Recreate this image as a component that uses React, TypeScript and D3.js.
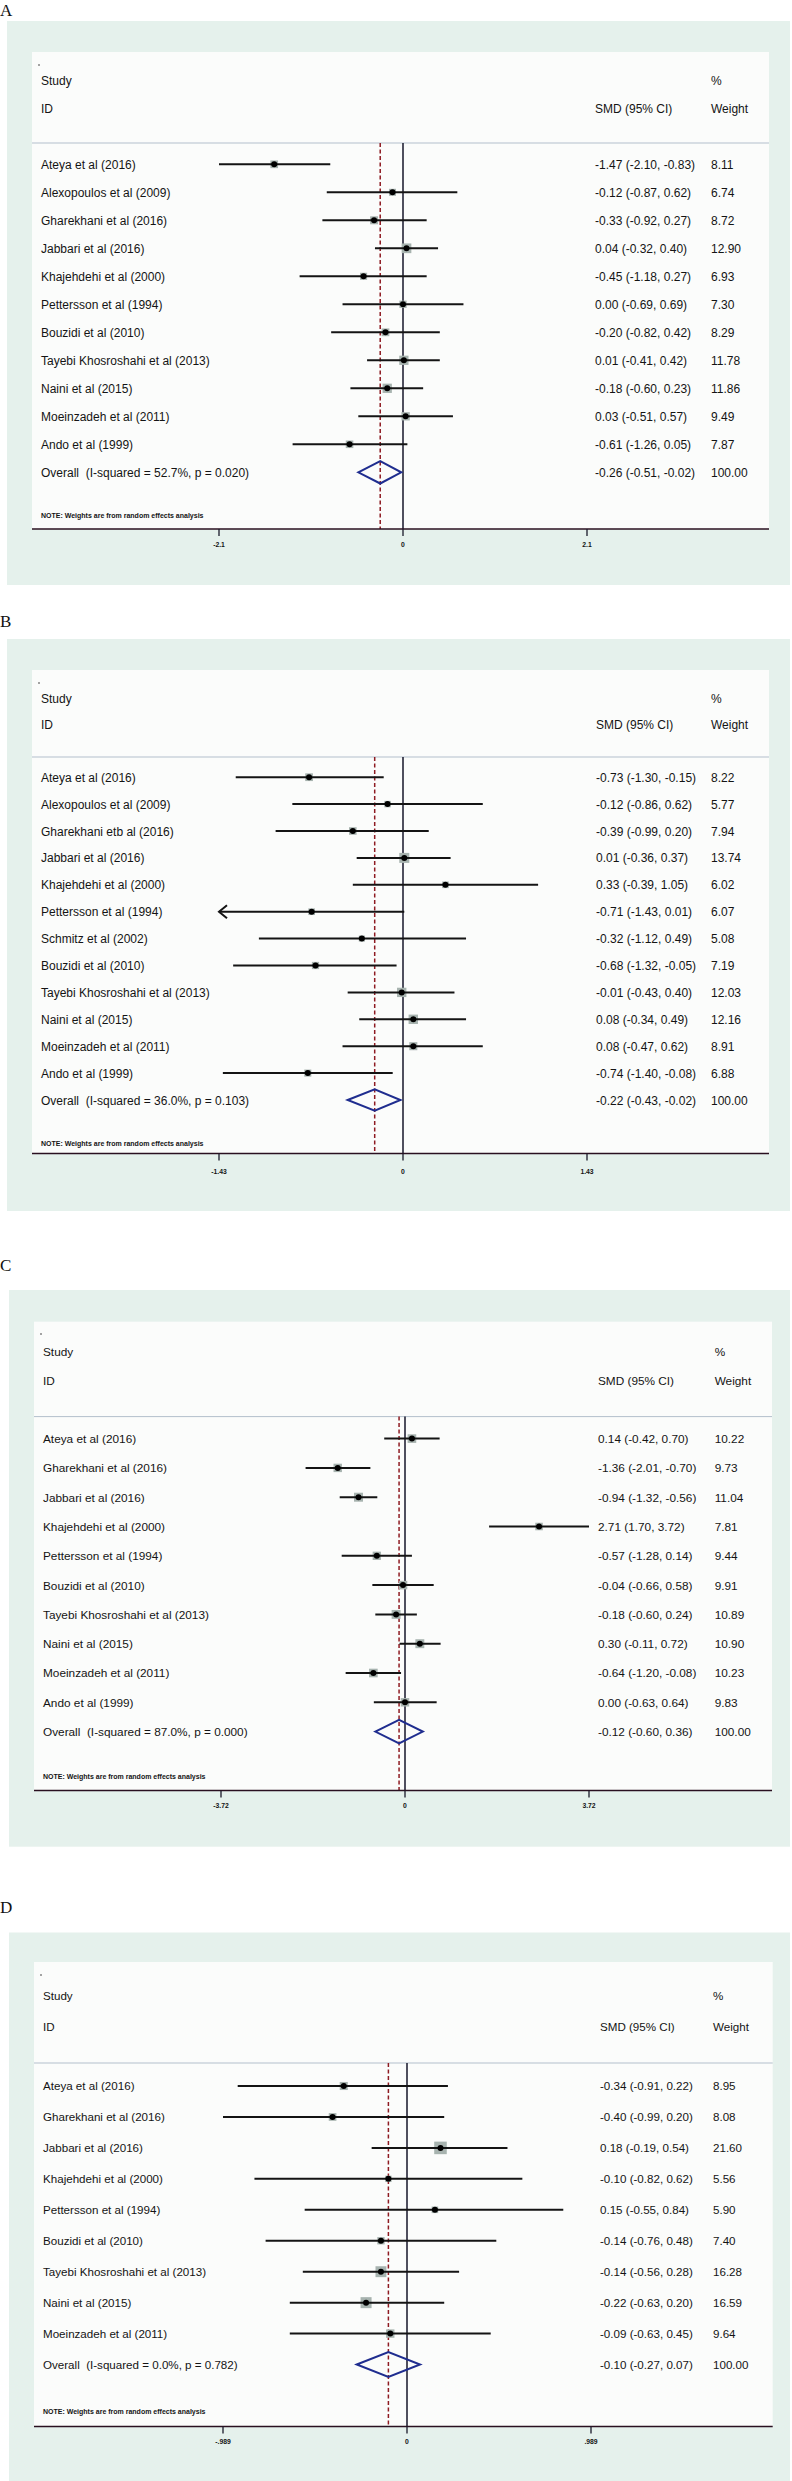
import React from "react";
import * as d3 from "d3";

// ---------- Panel A data ----------
const studiesA = ["Ateya et al (2016)", "Alexopoulos et al (2009)", "Gharekhani et al (2016)", "Jabbari et al (2016)", "Khajehdehi et al (2000)", "Pettersson et al (1994)", "Bouzidi et al (2010)", "Tayebi Khosroshahi et al (2013)", "Naini et al (2015)", "Moeinzadeh et al (2011)", "Ando et al (1999)"];
const smdA = [-1.47, -0.12, -0.33, 0.04, -0.45, 0.0, -0.2, 0.01, -0.18, 0.03, -0.61];
const lowerA = [-2.1, -0.87, -0.92, -0.32, -1.18, -0.69, -0.82, -0.41, -0.6, -0.51, -1.26];
const upperA = [-0.83, 0.62, 0.27, 0.4, 0.27, 0.69, 0.42, 0.42, 0.23, 0.57, 0.05];
const weightA = [8.11, 6.74, 8.72, 12.9, 6.93, 7.3, 8.29, 11.78, 11.86, 9.49, 7.87];
const overallA = [-0.26, -0.51, -0.02];
const hetA = "Overall  (I-squared = 52.7%, p = 0.020)";
const ticksA = [-2.1, 0, 2.1];
const tickLabelsA = ["-2.1", "0", "2.1"];
const arrowsA: string[] = [];

// ---------- Panel B data ----------
const studiesB = ["Ateya et al (2016)", "Alexopoulos et al (2009)", "Gharekhani etb al (2016)", "Jabbari et al (2016)", "Khajehdehi et al (2000)", "Pettersson et al (1994)", "Schmitz et al (2002)", "Bouzidi et al (2010)", "Tayebi Khosroshahi et al (2013)", "Naini et al (2015)", "Moeinzadeh et al (2011)", "Ando et al (1999)"];
const smdB = [-0.73, -0.12, -0.39, 0.01, 0.33, -0.71, -0.32, -0.68, -0.01, 0.08, 0.08, -0.74];
const lowerB = [-1.3, -0.86, -0.99, -0.36, -0.39, -1.43, -1.12, -1.32, -0.43, -0.34, -0.47, -1.4];
const upperB = [-0.15, 0.62, 0.2, 0.37, 1.05, 0.01, 0.49, -0.05, 0.4, 0.49, 0.62, -0.08];
const weightB = [8.22, 5.77, 7.94, 13.74, 6.02, 6.07, 5.08, 7.19, 12.03, 12.16, 8.91, 6.88];
const overallB = [-0.22, -0.43, -0.02];
const hetB = "Overall  (I-squared = 36.0%, p = 0.103)";
const ticksB = [-1.43, 0, 1.43];
const tickLabelsB = ["-1.43", "0", "1.43"];
const arrowsB = ["Pettersson et al (1994)"];

// ---------- Panel C data ----------
const studiesC = ["Ateya et al (2016)", "Gharekhani et al (2016)", "Jabbari et al (2016)", "Khajehdehi et al (2000)", "Pettersson et al (1994)", "Bouzidi et al (2010)", "Tayebi Khosroshahi et al (2013)", "Naini et al (2015)", "Moeinzadeh et al (2011)", "Ando et al (1999)"];
const smdC = [0.14, -1.36, -0.94, 2.71, -0.57, -0.04, -0.18, 0.3, -0.64, 0.0];
const lowerC = [-0.42, -2.01, -1.32, 1.7, -1.28, -0.66, -0.6, -0.11, -1.2, -0.63];
const upperC = [0.7, -0.7, -0.56, 3.72, 0.14, 0.58, 0.24, 0.72, -0.08, 0.64];
const weightC = [10.22, 9.73, 11.04, 7.81, 9.44, 9.91, 10.89, 10.9, 10.23, 9.83];
const overallC = [-0.12, -0.6, 0.36];
const hetC = "Overall  (I-squared = 87.0%, p = 0.000)";
const ticksC = [-3.72, 0, 3.72];
const tickLabelsC = ["-3.72", "0", "3.72"];
const arrowsC: string[] = [];

// ---------- Panel D data ----------
const studiesD = ["Ateya et al (2016)", "Gharekhani et al (2016)", "Jabbari et al (2016)", "Khajehdehi et al (2000)", "Pettersson et al (1994)", "Bouzidi et al (2010)", "Tayebi Khosroshahi et al (2013)", "Naini et al (2015)", "Moeinzadeh et al (2011)"];
const smdD = [-0.34, -0.4, 0.18, -0.1, 0.15, -0.14, -0.14, -0.22, -0.09];
const lowerD = [-0.91, -0.99, -0.19, -0.82, -0.55, -0.76, -0.56, -0.63, -0.63];
const upperD = [0.22, 0.2, 0.54, 0.62, 0.84, 0.48, 0.28, 0.2, 0.45];
const weightD = [8.95, 8.08, 21.6, 5.56, 5.9, 7.4, 16.28, 16.59, 9.64];
const overallD = [-0.1, -0.27, 0.07];
const hetD = "Overall  (I-squared = 0.0%, p = 0.782)";
const ticksD = [-0.989, 0, 0.989];
const tickLabelsD = ["-.989", "0", ".989"];
const arrowsD: string[] = [];

// ---------- layout (positions only) ----------
type Layout = {
  letter: string; labelY: number;
  outer: [number, number, number, number];
  white: [number, number, number, number];
  dotY: number; studyY: number; idY: number; headerY: number;
  firstRow: number; pitch: number; noteY: number; axisY: number;
  tx0: number; tx1: number; ciX: number; wX: number; tickLabelY: number; fs: number;
};

const layoutA: Layout = { letter: "A", labelY: 15.5, outer: [7, 21, 790, 585], white: [32, 52, 769, 529], dotY: 65, studyY: 85, idY: 113, headerY: 143, firstRow: 164.3, pitch: 28, noteY: 518, axisY: 529, tx0: 219, tx1: 587, ciX: 595, wX: 711, tickLabelY: 547, fs: 12 };
const layoutB: Layout = { letter: "B", labelY: 627, outer: [7, 639, 790, 1211], white: [32, 670, 769, 1153.4], dotY: 683, studyY: 702.6, idY: 729, headerY: 757, firstRow: 777.2, pitch: 26.9, noteY: 1145.5, axisY: 1153.4, tx0: 219, tx1: 587, ciX: 596, wX: 711, tickLabelY: 1174, fs: 12 };
const layoutC: Layout = { letter: "C", labelY: 1271, outer: [9, 1290, 790, 1846.7], white: [34, 1321.7, 772, 1790.5], dotY: 1334, studyY: 1356, idY: 1385, headerY: 1416.6, firstRow: 1438.6, pitch: 29.3, noteY: 1779, axisY: 1790.5, tx0: 221, tx1: 589, ciX: 598, wX: 714.7, tickLabelY: 1808, fs: 11.8 };
const layoutD: Layout = { letter: "D", labelY: 1913, outer: [9, 1932.5, 790, 2481], white: [34, 1962, 772.7, 2426.6], dotY: 1975, studyY: 2000, idY: 2031, headerY: 2063, firstRow: 2086, pitch: 30.95, noteY: 2413.5, axisY: 2426.6, tx0: 223, tx1: 591, ciX: 600, wX: 713, tickLabelY: 2444, fs: 11.6 };

const FONT = "'Liberation Sans', Arial, Helvetica, sans-serif";
const MINT = "#e5f1ec";
const WHITE = "#fbfcfb";
const INK = "#141414";
const BOX = "#a7b3af";
const NAVY = "#1f2d8f";
const DASH = "#8e1b22";

const locale = d3.formatLocale({ decimal: ".", thousands: ",", grouping: [3], currency: ["", ""], minus: "-" });
const f2 = locale.format(".2f");
const fmt = (v: number) => (Math.abs(v) < 0.005 ? "0.00" : f2(v));

type PanelProps = {
  L: Layout; studies: string[]; smd: number[]; lower: number[]; upper: number[]; weight: number[];
  overall: number[]; het: string; ticks: number[]; tickLabels: string[]; arrows: string[];
};

function Panel({ L, studies, smd, lower, upper, weight, overall, het, ticks, tickLabels, arrows }: PanelProps) {
  const x = d3.scaleLinear().domain([ticks[0], ticks[2]]).range([L.tx0, L.tx1]);
  const n = studies.length;
  const y = d3.scaleLinear().domain([0, n]).range([L.firstRow, L.firstRow + n * L.pitch]);
  const boxK = 2.7;
  const [wl, wt, wr, wb] = L.white;
  const [ol, ot, or, ob] = L.outer;
  const dh = L.pitch * 0.4;
  const diamond = d3.line()([
    [x(overall[1]), y(n)],
    [x(overall[0]), y(n) - dh],
    [x(overall[2]), y(n)],
    [x(overall[0]), y(n) + dh],
  ]) + "Z";
  const textY = (i: number) => y(i) + L.fs * 0.38;

  return (
    <g>
      <text x={0} y={L.labelY} fontFamily="'Liberation Serif', 'Times New Roman', serif" fontSize={17} fill="#111">{L.letter}</text>
      <rect x={ol} y={ot} width={or - ol} height={ob - ot} fill={MINT} />
      <rect x={wl} y={wt} width={wr - wl} height={wb - wt} fill={WHITE} />
      <circle cx={wl + 7} cy={L.dotY} r={0.8} fill="#333" />
      <g fontFamily={FONT} fontSize={L.fs} fill={INK}>
        <text x={wl + 9} y={L.studyY}>Study</text>
        <text x={wl + 9} y={L.idY}>ID</text>
        <text x={L.ciX} y={L.idY}>SMD (95% CI)</text>
        <text x={L.wX} y={L.studyY}>%</text>
        <text x={L.wX} y={L.idY}>Weight</text>
      </g>
      <line x1={wl} x2={wr} y1={L.headerY} y2={L.headerY} stroke="#b3bfcc" strokeWidth={1} />
      {/* reference lines */}
      <line x1={x(0)} x2={x(0)} y1={L.headerY} y2={L.axisY} stroke="#16162a" strokeWidth={1.5} />
      <line x1={x(overall[0])} x2={x(overall[0])} y1={L.headerY} y2={L.axisY} stroke={DASH} strokeWidth={1.5} strokeDasharray="4 2.5" />
      {/* studies */}
      {studies.map((s, i) => {
        const side = boxK * Math.sqrt(weight[i]);
        const hasArrow = arrows.includes(s);
        const lo = x(Math.max(lower[i], ticks[0]));
        const hi = x(Math.min(upper[i], ticks[2]));
        return (
          <g key={s}>
            <rect x={x(smd[i]) - side / 2} y={y(i) - side / 2} width={side} height={side} fill={BOX} />
            <line x1={lo} x2={hi} y1={y(i)} y2={y(i)} stroke={INK} strokeWidth={2} />
            {hasArrow && (
              <path d={`M${lo + 8},${y(i) - 6.5}L${lo},${y(i)}L${lo + 8},${y(i) + 6.5}`} fill="none" stroke={INK} strokeWidth={2} />
            )}
            <circle cx={x(smd[i])} cy={y(i)} r={3} fill="#000" />
            <text x={wl + 9} y={textY(i)} fontFamily={FONT} fontSize={L.fs} fill={INK}>{s}</text>
            <text x={L.ciX} y={textY(i)} fontFamily={FONT} fontSize={L.fs} fill={INK}>{`${fmt(smd[i])} (${fmt(lower[i])}, ${fmt(upper[i])})`}</text>
            <text x={L.wX} y={textY(i)} fontFamily={FONT} fontSize={L.fs} fill={INK}>{f2(weight[i])}</text>
          </g>
        );
      })}
      {/* overall */}
      <path d={diamond} fill="none" stroke={NAVY} strokeWidth={2} />
      <text x={wl + 9} y={textY(n)} fontFamily={FONT} fontSize={L.fs} fill={INK} style={{ whiteSpace: "pre" }}>{het}</text>
      <text x={L.ciX} y={textY(n)} fontFamily={FONT} fontSize={L.fs} fill={INK}>{`${fmt(overall[0])} (${fmt(overall[1])}, ${fmt(overall[2])})`}</text>
      <text x={L.wX} y={textY(n)} fontFamily={FONT} fontSize={L.fs} fill={INK}>100.00</text>
      <text x={wl + 9} y={L.noteY} fontFamily={FONT} fontSize={7} fontWeight="bold" fill={INK}>NOTE: Weights are from random effects analysis</text>
      {/* axis */}
      <line x1={wl} x2={wr} y1={L.axisY} y2={L.axisY} stroke="#2a1020" strokeWidth={1.5} />
      {ticks.map((t, i) => (
        <g key={i}>
          <line x1={x(t)} x2={x(t)} y1={L.axisY} y2={L.axisY + 7} stroke="#1a1a2a" strokeWidth={1.3} />
          <text x={x(t)} y={L.tickLabelY} textAnchor="middle" fontFamily={FONT} fontSize={6.8} fontWeight="bold" fill={INK}>{tickLabels[i]}</text>
        </g>
      ))}
    </g>
  );
}

export default function App() {
  return (
    <svg width={792} height={2481} style={{ position: "absolute", left: 0, top: 0, background: "#fff" }}>
      <Panel L={layoutA} studies={studiesA} smd={smdA} lower={lowerA} upper={upperA} weight={weightA} overall={overallA} het={hetA} ticks={ticksA} tickLabels={tickLabelsA} arrows={arrowsA} />
      <Panel L={layoutB} studies={studiesB} smd={smdB} lower={lowerB} upper={upperB} weight={weightB} overall={overallB} het={hetB} ticks={ticksB} tickLabels={tickLabelsB} arrows={arrowsB} />
      <Panel L={layoutC} studies={studiesC} smd={smdC} lower={lowerC} upper={upperC} weight={weightC} overall={overallC} het={hetC} ticks={ticksC} tickLabels={tickLabelsC} arrows={arrowsC} />
      <Panel L={layoutD} studies={studiesD} smd={smdD} lower={lowerD} upper={upperD} weight={weightD} overall={overallD} het={hetD} ticks={ticksD} tickLabels={tickLabelsD} arrows={arrowsD} />
    </svg>
  );
}
